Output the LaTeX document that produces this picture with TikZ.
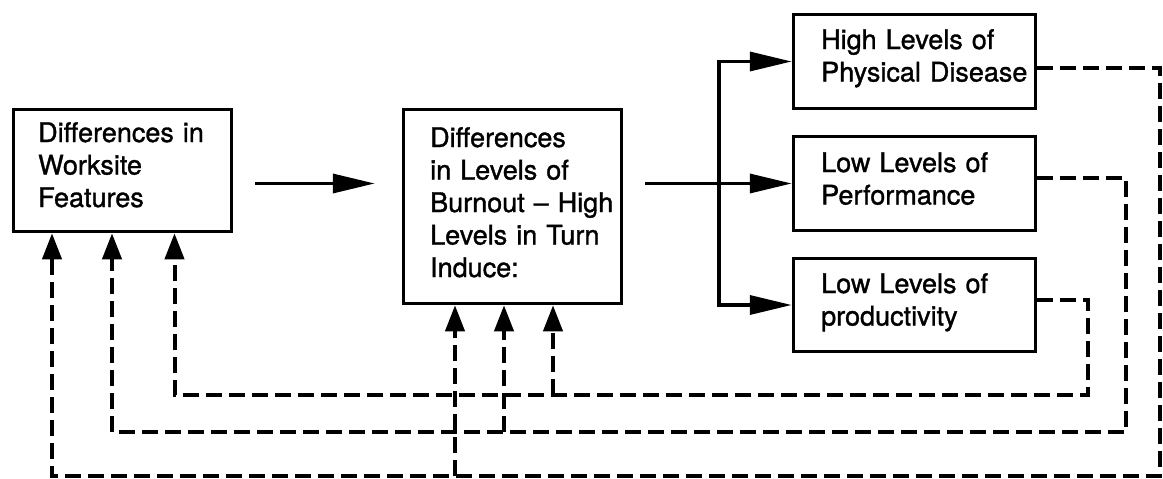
\documentclass[tikz,border=0pt]{standalone}
\usepackage{fontspec}
\setmainfont{TeX Gyre Heros}
\newfontfamily\lblfont{TeX Gyre Heros}[FakeBold=1.2,Ligatures=TeX]
\usetikzlibrary{arrows.meta,calc}
\begin{document}
\begin{tikzpicture}[x=1pt,y=-1pt,
  box/.style={draw, line width=3.5pt, rectangle, inner sep=0pt},
  lbl/.style={inner sep=0pt, anchor=base west, align=left, text width=#1,
    font=\lblfont\fontsize{27}{32.5}\selectfont},
  flow/.style={line width=3.5pt, -{Triangle[length=42pt,width=19pt]}},
  fb/.style={line width=4pt, dash pattern=on 16pt off 7pt,
    -{Triangle[length=26pt,width=19pt]}}
]
\useasboundingbox (0,0) rectangle (1163,479);

% boxes
\node[box, minimum width=218pt, minimum height=122pt] (wA) at (122.5,170.5) {};
\node[box, minimum width=218pt, minimum height=194pt] (burn) at (512.5,206.5) {};
\node[box, minimum width=242pt, minimum height=94pt] (phys) at (914.5,61.5) {};
\node[box, minimum width=242pt, minimum height=94pt] (perf) at (914.5,183.5) {};
\node[box, minimum width=242pt, minimum height=93pt] (prod) at (914.5,305) {};

% box texts
\node[lbl=190pt] (wAt) at (38,142) {Differences in\\Worksite\\Features};
\node[lbl=190pt] (burnt) at (430,147) {Differences\\in Levels of\\Burnout – High\\Levels in Turn\\Induce:};
\node[lbl=212pt] (physt) at (821,49) {High Levels of\\Physical Disease};
\node[lbl=212pt] (perft) at (821,172) {Low Levels of\\Performance};
\node[lbl=212pt] (prodt) at (821,293) {Low Levels of\\productivity};

% forward flow
\draw[flow, shorten <=22pt, shorten >=27pt] (wA.east |- perf.west) -- (burn.west |- perf.west);
\draw[flow, shorten <=22pt] (burn.east |- perf.west) -- (perf.west);
\coordinate (trunk) at (719,183.5);
\draw[line width=3.5pt, {Triangle[length=42pt,width=19pt]}-{Triangle[length=42pt,width=19pt]}]
  (phys.west) -- (trunk |- phys.west) -- (trunk |- prod.west) -- (prod.west);

% feedback rails
\coordinate (outC) at (phys.east |- 0,68);
\coordinate (outD) at (perf.east |- 0,178);
\coordinate (outE) at (prod.east |- 0,300);
\coordinate (railC) at (1160,476);
\coordinate (railD) at (1126,432);
\coordinate (railE) at (1088,395);
\coordinate (inA1) at ([xshift=-70.5pt]wA.south);
\coordinate (inA2) at ([xshift=-10.5pt]wA.south);
\coordinate (inA3) at ([xshift=52pt]wA.south);
\coordinate (inB1) at ([xshift=-57.5pt]burn.south);
\coordinate (inB2) at ([xshift=-8.5pt]burn.south);
\coordinate (inB3) at ([xshift=40.5pt]burn.south);

\draw[fb] (outC) -| (railC) -| (inA1);
\draw[fb] (outD) -| (railD) -| (inA2);
\draw[fb] (outE) -| (railE) -| (inA3);
\draw[fb] (inB1 |- railC) -- (inB1);
\draw[fb] (inB2 |- railD) -- (inB2);
\draw[fb] (inB3 |- railE) -- (inB3);
\end{tikzpicture}
\end{document}
